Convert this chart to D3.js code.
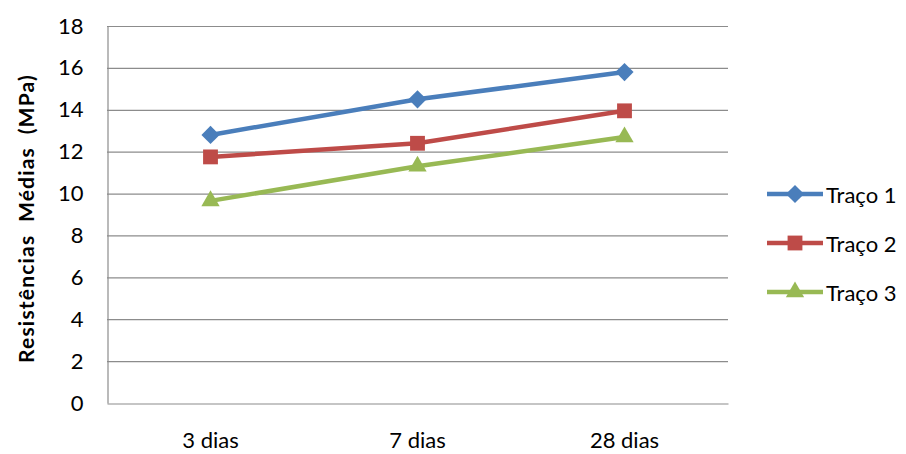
<!DOCTYPE html>
<html>
<head>
<meta charset="utf-8">
<script src="https://cdn.jsdelivr.net/npm/d3@7"></script>
<style>
  body { margin: 0; background: #fff; }
  text { font-family: Lato, "Open Sans", sans-serif; fill: #000; }
</style>
</head>
<body>
<svg id="chart" width="906" height="454"></svg>
<script>
const categories = ['3 dias', '7 dias', '28 dias']
const seriesNames = ['Traço 1', 'Traço 2', 'Traço 3']
const traco1 = [12.8, 14.5, 15.8]
const traco2 = [11.75, 12.4, 13.95]
const traco3 = [9.65, 11.3, 12.7]
const yTicks = [0, 2, 4, 6, 8, 10, 12, 14, 16, 18]
const colors = ['#4A7EBB', '#BE4B48', '#98B954']
const symbols = [d3.symbolDiamond2, d3.symbolSquare2, d3.symbolTriangle2]

const series = [traco1, traco2, traco3].map((values, i) => ({
  name: seriesNames[i], values, color: colors[i], symbol: symbols[i]
}))

const margin = {left: 107, top: 26, right: 178, bottom: 51}
const width = 906 - margin.left - margin.right
const height = 454 - margin.top - margin.bottom
const fontSize = 22

const svg = d3.select('#chart')
const g = svg.append('g').attr('transform', `translate(${margin.left},${margin.top})`)

const x = d3.scaleBand().domain(categories).range([0, width])
const y = d3.scaleLinear().domain([0, 18]).range([height, 0])

// grid lines
g.append('g')
  .selectAll('line')
  .data(yTicks.filter(t => t > 0))
  .join('line')
  .attr('x1', 0).attr('x2', width)
  .attr('y1', d => y(d) + 0.5).attr('y2', d => y(d) + 0.5)
  .attr('stroke', '#8c8c8c').attr('stroke-width', 1.2)

// y axis
const yAxis = g.append('g')
  .attr('transform', 'translate(0.5,0)')
  .call(d3.axisLeft(y).tickValues(yTicks).tickSize(0).tickPadding(24))
yAxis.select('.domain').attr('stroke', '#8c8c8c').attr('stroke-width', 1.2)
yAxis.selectAll('text').attr('font-size', fontSize).attr('font-family', 'Lato, sans-serif').attr('fill', '#000')

// x axis
const xAxis = g.append('g')
  .attr('transform', `translate(0,${height + 0.5})`)
  .call(d3.axisBottom(x).tickSize(0).tickPadding(29))
xAxis.select('.domain').attr('stroke', '#8c8c8c').attr('stroke-width', 1.2)
xAxis.selectAll('text').attr('font-size', fontSize).attr('font-family', 'Lato, sans-serif').attr('fill', '#000')

// y title
svg.append('text')
  .attr('transform', `translate(34,${margin.top + height / 2 + 4}) rotate(-90)`)
  .attr('text-anchor', 'middle')
  .attr('font-size', 21)
  .attr('font-weight', 'bold')
  .attr('letter-spacing', 1.2)
  .style('white-space', 'pre')
  .text('Resistências  Médias  (MPa)')

const line = d3.line()
  .x((d, i) => x(categories[i]) + x.bandwidth() / 2)
  .y(d => y(d))

const sizes = [210, 280, 240]

series.forEach((s, k) => {
  g.append('path')
    .datum(s.values)
    .attr('d', line)
    .attr('fill', 'none')
    .attr('stroke', s.color)
    .attr('stroke-width', 4.5)
  g.selectAll(null)
    .data(s.values)
    .join('path')
    .attr('transform', (d, i) => `translate(${x(categories[i]) + x.bandwidth() / 2},${y(d)})`)
    .attr('d', d3.symbol().type(s.symbol).size(sizes[k]))
    .attr('fill', s.color)
})

// legend
const legend = svg.append('g').attr('transform', 'translate(767,194)')
series.forEach((s, i) => {
  const row = legend.append('g').attr('transform', `translate(0,${i * 49})`)
  row.append('line')
    .attr('x1', 0).attr('x2', 56)
    .attr('stroke', s.color).attr('stroke-width', 4.5)
  row.append('path')
    .attr('transform', 'translate(28,0)')
    .attr('d', d3.symbol().type(s.symbol).size(sizes[i]))
    .attr('fill', s.color)
  row.append('text')
    .attr('x', 59).attr('y', 9)
    .attr('font-size', fontSize)
    .text(s.name)
})
</script>
</body>
</html>
